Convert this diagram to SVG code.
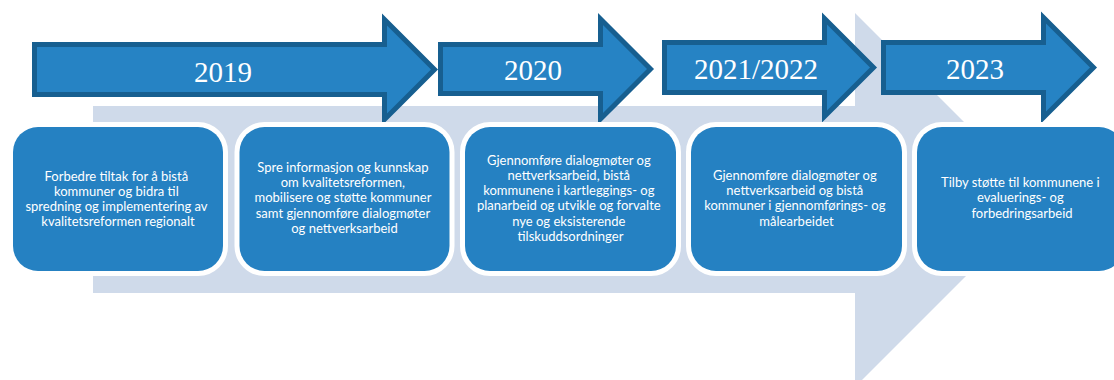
<svg xmlns="http://www.w3.org/2000/svg" width="1114" height="380" viewBox="0 0 1114 380">
  <style>
    .year { font-family: "Liberation Serif", "Times New Roman", serif; font-size: 29px; fill: #ffffff; text-anchor: middle; }
    .step { fill: #2683C4; stroke: #175F90; stroke-width: 5; stroke-linejoin: miter; stroke-miterlimit: 10; }
    .card { fill: #2581C2; stroke: #ffffff; stroke-width: 10; paint-order: stroke; }
    .label { font-family: Lato, "Open Sans", sans-serif; font-size: 13px; fill: #ffffff; text-anchor: middle; }
  </style>

  <!-- background timeline arrow -->
  <path id="timeline" d="M93,106 H855 V13 L1042,200 L855,387 V293 H93 Z" fill="#CFDAEA"/>

  <!-- year arrows -->
  <g id="year-2019">
    <path class="step" d="M34.5,44.5 H384.5 V19.5 L434.5,69.5 L384.5,119.5 V94.5 H34.5 Z"/>
    <text class="year" x="223" y="82">2019</text>
  </g>
  <g id="year-2020">
    <path class="step" d="M440.5,44.5 H600.5 V19 L650.5,69 L600.5,119 V93.5 H440.5 Z"/>
    <text class="year" x="533" y="80">2020</text>
  </g>
  <g id="year-2021-2022">
    <path class="step" d="M664.5,42.5 H824.5 V18.5 L873.5,67.5 L824.5,116.5 V92.5 H664.5 Z"/>
    <text class="year" x="756" y="79">2021/2022</text>
  </g>
  <g id="year-2023">
    <path class="step" d="M883.5,42.5 H1043.5 V17.5 L1093.5,67.5 L1043.5,117.5 V92.5 H883.5 Z"/>
    <text class="year" x="975" y="79">2023</text>
  </g>

  <!-- activity cards -->
  <g id="card-2019">
    <rect class="card" x="13" y="127" width="210" height="144" rx="25"/>
    <text class="label" x="118">
      <tspan x="118" y="181">Forbedre tiltak for å bistå</tspan>
      <tspan x="118" y="196">kommuner og bidra til</tspan>
      <tspan x="118" y="211">spredning og implementering av</tspan>
      <tspan x="118" y="226">kvalitetsreformen regionalt</tspan>
    </text>
  </g>
  <g id="card-2020a">
    <rect class="card" x="239.5" y="127" width="210" height="144" rx="25"/>
    <text class="label">
      <tspan x="344.5" y="172">Spre informasjon og kunnskap</tspan>
      <tspan x="344.5" y="187">om kvalitetsreformen,</tspan>
      <tspan x="344.5" y="202">mobilisere og støtte kommuner</tspan>
      <tspan x="344.5" y="218">samt gjennomføre dialogmøter</tspan>
      <tspan x="344.5" y="233">og nettverksarbeid</tspan>
    </text>
  </g>
  <g id="card-2020b">
    <rect class="card" x="465" y="127" width="211" height="144" rx="25"/>
    <text class="label">
      <tspan x="570.5" y="165">Gjennomføre dialogmøter og</tspan>
      <tspan x="570.5" y="180">nettverksarbeid, bistå</tspan>
      <tspan x="570.5" y="195">kommunene i kartleggings- og</tspan>
      <tspan x="570.5" y="210">planarbeid og utvikle og forvalte</tspan>
      <tspan x="570.5" y="226">nye og eksisterende</tspan>
      <tspan x="570.5" y="241">tilskuddsordninger</tspan>
    </text>
  </g>
  <g id="card-2021-2022">
    <rect class="card" x="691" y="127" width="211" height="144" rx="25"/>
    <text class="label">
      <tspan x="796.5" y="180">Gjennomføre dialogmøter og</tspan>
      <tspan x="796.5" y="195">nettverksarbeid og bistå</tspan>
      <tspan x="796.5" y="210">kommuner i gjennomførings- og</tspan>
      <tspan x="796.5" y="226">målearbeidet</tspan>
    </text>
  </g>
  <g id="card-2023">
    <rect class="card" x="917" y="127" width="207" height="144" rx="25"/>
    <text class="label">
      <tspan x="1022" y="187">Tilby støtte til kommunene i</tspan>
      <tspan x="1022" y="202">evaluerings- og</tspan>
      <tspan x="1022" y="218">forbedringsarbeid</tspan>
    </text>
  </g>
</svg>
